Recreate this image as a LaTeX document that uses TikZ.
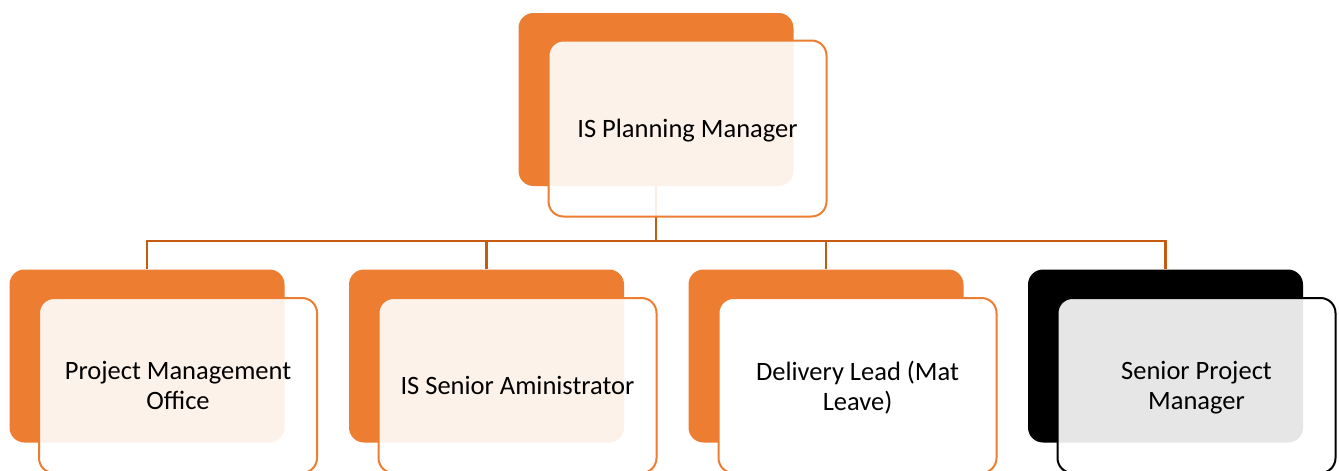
\documentclass[tikz,border=0pt]{standalone}
\usepackage{fontspec}
\setmainfont{Carlito}
\usepackage{tikz}
\usetikzlibrary{positioning}

\definecolor{accent}{RGB}{237,125,49}
\definecolor{linkcol}{RGB}{197,90,17}

\tikzset{
  backbox/.style={rounded corners=15pt, fill=accent, minimum width=275pt, minimum height=173pt, inner sep=0pt},
  frontbox/.style={rounded corners=15pt, draw=accent, line width=2pt, fill=white, fill opacity=0.9, text opacity=1,
    minimum width=278pt, minimum height=176pt, inner sep=0pt, align=center, font=\fontsize{26.5}{30}\selectfont},
  lowbox/.style={frontbox, minimum height=175pt, text depth=-2pt},
  link/.style={draw=linkcol, line width=2.2pt}
}

\begin{document}
\begin{tikzpicture}[x=1pt, y=-1pt]
  \useasboundingbox (0,0) rectangle (1339,471);
  % Back cards
  \node[backbox] (topback) at (656,99.5) {};
  \node[backbox] (pmoback) at (147,356) {};
  \node[backbox] (isaback) at (486.5,356) {};
  \node[backbox] (delback) at (826,356) {};
  \node[backbox, fill=black] (spmback) at (1165.5,356) {};
  % Connectors
  \coordinate (bar) at (656,241);
  \foreach \b in {pmoback,isaback,delback,spmback}
    \draw[link] (topback.south) |- (bar) -| (\b.north);
  % Front cards
  \node[frontbox, text depth=-2pt] (top) at (687.5,128.5) {IS Planning Manager};
  \node[lowbox] (pmo) at (178,385.5) {Project Management\\Office};
  \node[lowbox] (isa) at (517.5,385.5) {IS Senior Aministrator};
  \node[lowbox, fill opacity=1] (del) at (857.5,385.5) {Delivery Lead (Mat\\Leave)};
  \node[lowbox, draw=black] (spm) at (1196.5,385.5) {Senior Project\\Manager};
\end{tikzpicture}
\end{document}
